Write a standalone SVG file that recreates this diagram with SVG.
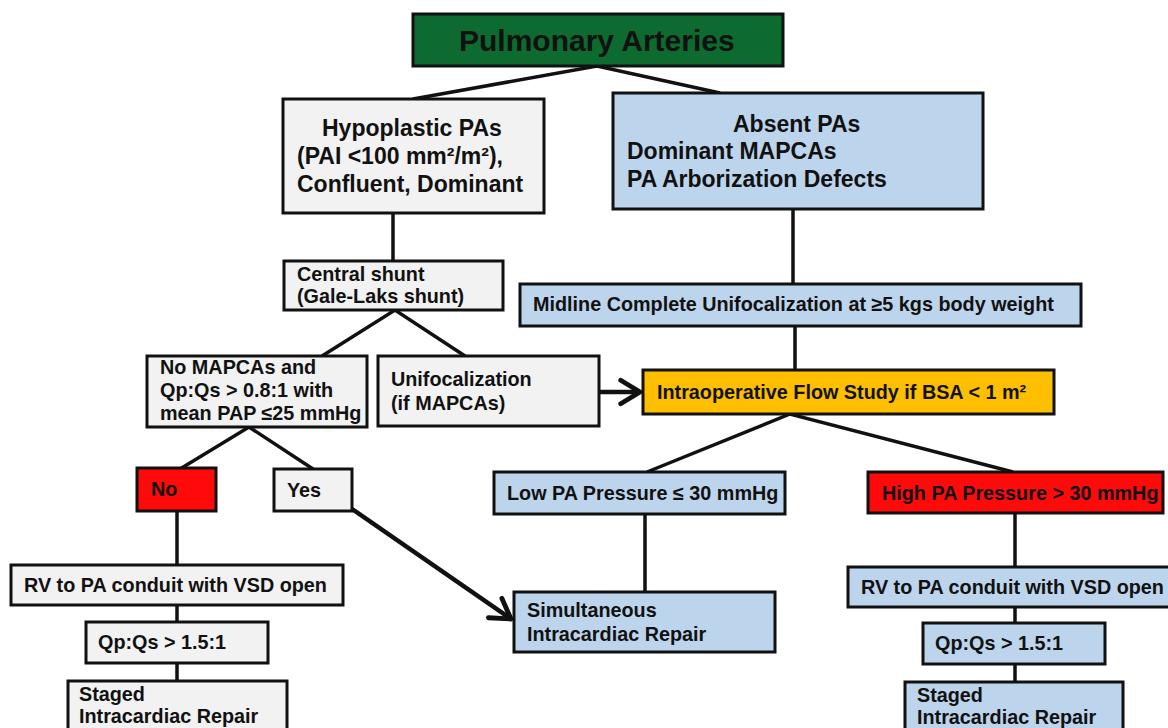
<svg xmlns="http://www.w3.org/2000/svg" width="1168" height="728" viewBox="0 0 1168 728">
<defs>
<style>
.box{stroke:#111;stroke-width:3}
.grey{fill:#f2f2f2}
.blue{fill:#bdd5ec}
.red{fill:#fe0a0a}
.gold{fill:#fdbf00}
.green{fill:#0d6b2f}
text{font-family:"Liberation Sans",Arial,Helvetica,sans-serif;font-weight:bold;fill:#111}
.t{font-size:19.8px}
.big{font-size:23px}
.title{font-size:30px}
.conn line,.conn polyline{stroke:#111;stroke-width:3.5;fill:none}
.arr{stroke-width:4.5 !important}
</style>
<marker id="chev" markerUnits="userSpaceOnUse" markerWidth="30" markerHeight="30" viewBox="-22 -14 26 28" refX="0" refY="0" orient="auto">
<path d="M-18,-11 L0,0 L-18,11" fill="none" stroke="#111" stroke-width="4.5" stroke-linecap="round" stroke-linejoin="round"/>
</marker>
</defs>
<rect width="1168" height="728" fill="#ffffff"/>

<g class="conn" id="connectors">
<polyline points="413,99 597,66 720,93"/>
<line x1="393" y1="213" x2="393" y2="261"/>
<polyline points="322,356 395,310 465,356"/>
<polyline points="180,469 249,427 313,469"/>
<line x1="177" y1="511" x2="177" y2="565"/>
<line x1="177" y1="605" x2="177" y2="622"/>
<line x1="177" y1="663" x2="177" y2="681"/>
<line x1="793" y1="209" x2="793" y2="284"/>
<line x1="795" y1="326" x2="795" y2="370"/>
<polyline points="647,472 790,414 1013,472"/>
<line x1="645" y1="514" x2="645" y2="592"/>
<line x1="1015" y1="513" x2="1015" y2="567"/>
<line x1="1015" y1="607" x2="1015" y2="623"/>
<line x1="1015" y1="664" x2="1015" y2="682"/>
<line class="arr" x1="599" y1="392" x2="640" y2="392" marker-end="url(#chev)"/>
<line class="arr" x1="352" y1="509" x2="511" y2="619" marker-end="url(#chev)"/>
</g>

<g id="n-pulmonary">
<rect class="box green" x="413" y="14" width="370" height="52"/>
<text class="title" x="459" y="51">Pulmonary Arteries</text>
</g>

<g id="n-hypoplastic">
<rect class="box grey" x="283" y="99" width="261" height="114"/>
<text class="big" x="322" y="136">Hypoplastic PAs</text>
<text class="big" x="297" y="164">(PAI &lt;100 mm²/m²),</text>
<text class="big" x="297" y="192">Confluent, Dominant</text>
</g>

<g id="n-absent">
<rect class="box blue" x="613" y="93" width="370" height="116"/>
<text class="big" x="733" y="132">Absent PAs</text>
<text class="big" x="627" y="159">Dominant MAPCAs</text>
<text class="big" x="627" y="187">PA Arborization Defects</text>
</g>

<g id="n-central">
<rect class="box grey" x="284" y="261" width="219" height="49"/>
<text class="t" x="297" y="281">Central shunt</text>
<text class="t" x="297" y="303">(Gale-Laks shunt)</text>
</g>

<g id="n-midline">
<rect class="box blue" x="520" y="284" width="561" height="42"/>
<text class="t" x="533" y="311">Midline Complete Unifocalization at ≥5 kgs body weight</text>
</g>

<g id="n-nomapcas">
<rect class="box grey" x="147" y="356" width="220" height="71"/>
<text class="t" x="160" y="374">No MAPCAs and</text>
<text class="t" x="160" y="397">Qp:Qs &gt; 0.8:1 with</text>
<text class="t" x="160" y="420">mean PAP ≤25 mmHg</text>
</g>

<g id="n-unifocalization">
<rect class="box grey" x="378" y="356" width="221" height="70"/>
<text class="t" x="391" y="386">Unifocalization</text>
<text class="t" x="391" y="410">(if MAPCAs)</text>
</g>

<g id="n-flow">
<rect class="box gold" x="643" y="370" width="411" height="44"/>
<text class="t" x="657" y="399">Intraoperative Flow Study if BSA &lt; 1 m²</text>
</g>

<g id="n-no">
<rect class="box red" x="137" y="468" width="79" height="43"/>
<text class="t" x="151" y="496">No</text>
</g>

<g id="n-yes">
<rect class="box grey" x="274" y="469" width="78" height="42"/>
<text class="t" x="287" y="497">Yes</text>
</g>

<g id="n-low">
<rect class="box blue" x="494" y="472" width="291" height="42"/>
<text class="t" x="507" y="500">Low PA Pressure ≤ 30 mmHg</text>
</g>

<g id="n-high">
<rect class="box red" x="868" y="472" width="295" height="41"/>
<text class="t" x="882" y="500">High PA Pressure &gt; 30 mmHg</text>
</g>

<g id="n-rv-left">
<rect class="box grey" x="11" y="565" width="332" height="40"/>
<text class="t" x="24" y="592">RV to PA conduit with VSD open</text>
</g>

<g id="n-simultaneous">
<rect class="box blue" x="514" y="592" width="261" height="60"/>
<text class="t" x="527" y="617">Simultaneous</text>
<text class="t" x="527" y="641">Intracardiac Repair</text>
</g>

<g id="n-rv-right">
<rect class="box blue" x="848" y="567" width="330" height="40"/>
<text class="t" x="861" y="594">RV to PA conduit with VSD open</text>
</g>

<g id="n-qp-left">
<rect class="box grey" x="86" y="622" width="182" height="41"/>
<text class="t" x="98" y="649">Qp:Qs &gt; 1.5:1</text>
</g>

<g id="n-qp-right">
<rect class="box blue" x="923" y="623" width="182" height="41"/>
<text class="t" x="935" y="650">Qp:Qs &gt; 1.5:1</text>
</g>

<g id="n-staged-left">
<rect class="box grey" x="68" y="681" width="219" height="60"/>
<text class="t" x="79" y="701">Staged</text>
<text class="t" x="79" y="723">Intracardiac Repair</text>
</g>

<g id="n-staged-right">
<rect class="box blue" x="905" y="682" width="218" height="60"/>
<text class="t" x="917" y="702">Staged</text>
<text class="t" x="917" y="724">Intracardiac Repair</text>
</g>
</svg>
